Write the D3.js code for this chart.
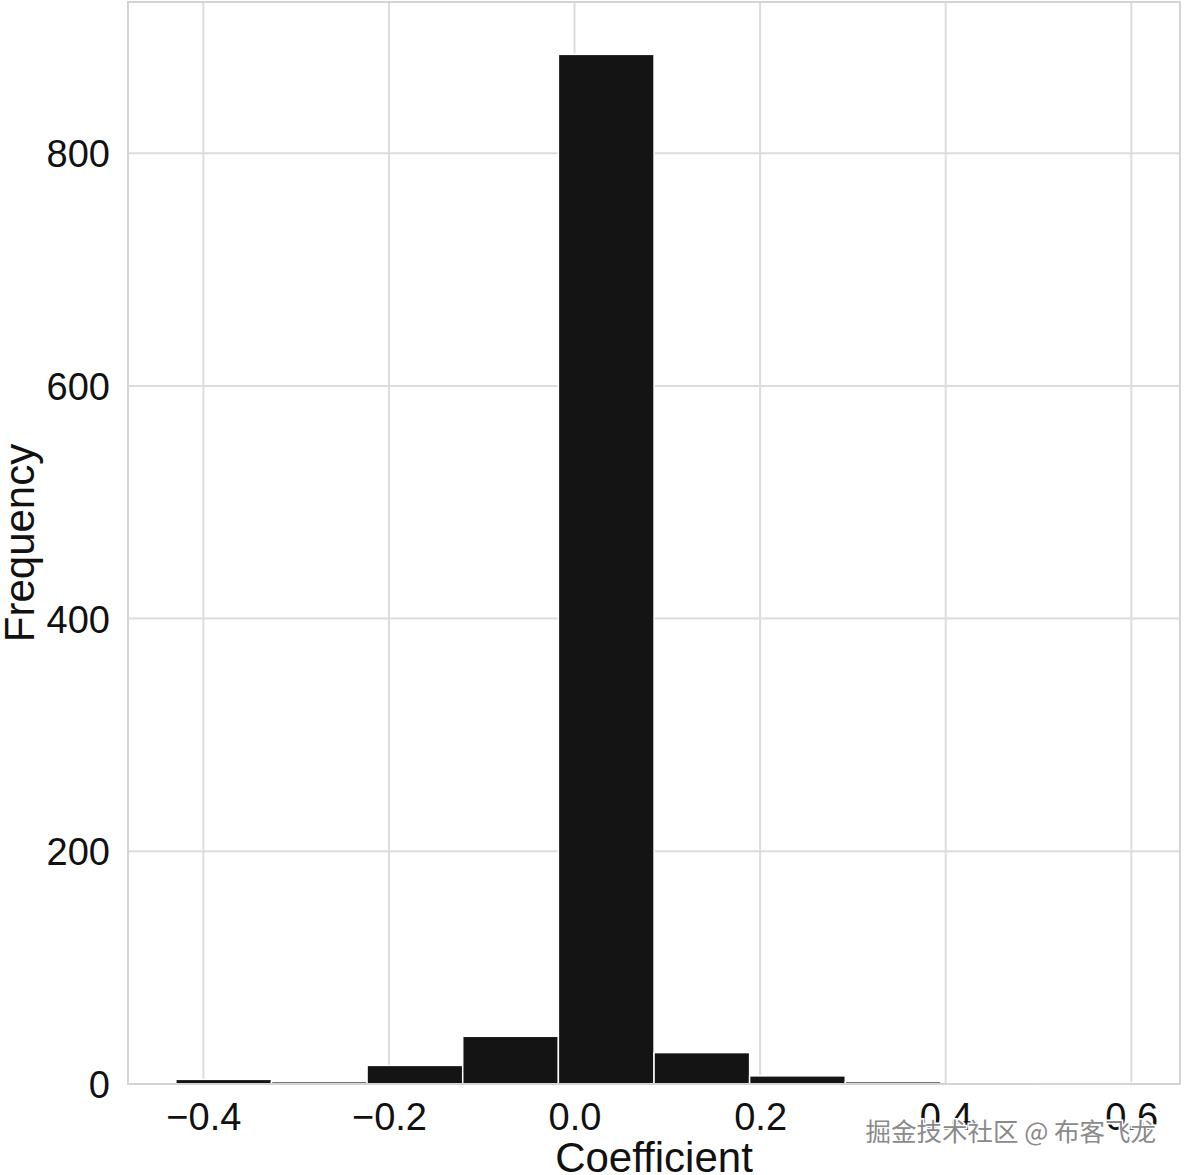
<!DOCTYPE html>
<html>
<head>
<meta charset="utf-8">
<script src="https://cdn.jsdelivr.net/npm/d3@7"></script>
<style>
  html, body { margin: 0; padding: 0; background: #fff; }
  svg { display: block; }
</style>
</head>
<body>
<div id="chart"></div>
<script>
// Histogram bin edges (coefficient) and counts (frequency)
const binEdges = [-0.4297, -0.3266, -0.2236, -0.1205, -0.0174, 0.0857, 0.1887, 0.2918, 0.3949, 0.4979, 0.6010];
const counts = [4, 2, 16, 41, 885, 27, 7, 2, 0, 1];
const xTicks = [-0.4, -0.2, 0.0, 0.2, 0.4, 0.6];
const yTicks = [0, 200, 400, 600, 800];
const xLabel = "Coefficient";
const yLabel = "Frequency";
const watermark = "掘金技术社区 @ 布客飞龙";

const W = 1184, H = 1175;
const plot = { left: 128, right: 1180, top: 2, bottom: 1084 };

const svg = d3.select("#chart").append("svg")
  .attr("width", W).attr("height", H)
  .style("font-family", "'Liberation Sans', Arial, Helvetica, sans-serif");

const span = binEdges[binEdges.length - 1] - binEdges[0];
const x = d3.scaleLinear()
  .domain([binEdges[0] - 0.05 * span, binEdges[binEdges.length - 1] + 0.05 * span])
  .range([plot.left, plot.right]);
const y = d3.scaleLinear().domain([0, 930]).range([plot.bottom, plot.top]);

const gridColor = "#dcdcdc";
const fmt = v => (v < 0 ? "\u2212" : "") + Math.abs(v).toFixed(1);

// grid lines
const grid = svg.append("g");
grid.selectAll("line.vx").data(xTicks).join("line")
  .attr("x1", d => x(d)).attr("x2", d => x(d))
  .attr("y1", plot.top).attr("y2", plot.bottom)
  .attr("stroke", gridColor).attr("stroke-width", 2);
grid.selectAll("line.hy").data(yTicks).join("line")
  .attr("x1", plot.left).attr("x2", plot.right)
  .attr("y1", d => y(d)).attr("y2", d => y(d))
  .attr("stroke", gridColor).attr("stroke-width", 2);

// bars
const bins = counts.map((c, i) => ({ x0: binEdges[i], x1: binEdges[i + 1], c }));
svg.append("g").selectAll("rect").data(bins).join("rect")
  .attr("x", d => x(d.x0))
  .attr("width", d => x(d.x1) - x(d.x0))
  .attr("y", d => y(d.c))
  .attr("height", d => y(0) - y(d.c))
  .attr("fill", "#141414")
  .attr("stroke", "#ffffff")
  .attr("stroke-width", 1.5);

// spines
svg.append("rect")
  .attr("x", plot.left).attr("y", plot.top)
  .attr("width", plot.right - plot.left).attr("height", plot.bottom - plot.top)
  .attr("fill", "none").attr("stroke", "#d4d4d4").attr("stroke-width", 2);

// axes (tick labels only, via d3 axis)
const xAxis = d3.axisBottom(x).tickValues(xTicks).tickFormat(fmt).tickSize(0).tickPadding(0);
const gx = svg.append("g").attr("transform", `translate(0,${plot.bottom})`).call(xAxis);
gx.select(".domain").remove();
gx.selectAll("text").attr("y", 46).attr("dy", null)
  .attr("font-size", 38).attr("fill", "#111")
  .style("font-family", "'Liberation Sans', Arial, sans-serif");

const yAxis = d3.axisLeft(y).tickValues(yTicks).tickFormat(d3.format("d")).tickSize(0).tickPadding(0);
const gy = svg.append("g").attr("transform", `translate(${plot.left},0)`).call(yAxis);
gy.select(".domain").remove();
gy.selectAll("text").attr("x", -18).attr("dy", "0.36em")
  .attr("font-size", 38).attr("fill", "#111")
  .style("font-family", "'Liberation Sans', Arial, sans-serif");

// axis titles
svg.append("text")
  .attr("x", (plot.left + plot.right) / 2).attr("y", 1172)
  .attr("text-anchor", "middle").attr("font-size", 42).attr("fill", "#111")
  .text(xLabel);
svg.append("text")
  .attr("transform", `translate(34,${(plot.top + plot.bottom) / 2}) rotate(-90)`)
  .attr("text-anchor", "middle").attr("font-size", 42).attr("fill", "#111")
  .text(yLabel);

// watermark
svg.append("text")
  .attr("x", 1156).attr("y", 1141)
  .attr("text-anchor", "end")
  .attr("font-size", 25.5)
  .style("font-family", "'Noto Sans CJK SC', sans-serif")
  .attr("fill", "#8a8a8a")
  .attr("stroke", "#ffffff").attr("stroke-width", 3).attr("paint-order", "stroke")
  .text(watermark);
</script>
</body>
</html>
